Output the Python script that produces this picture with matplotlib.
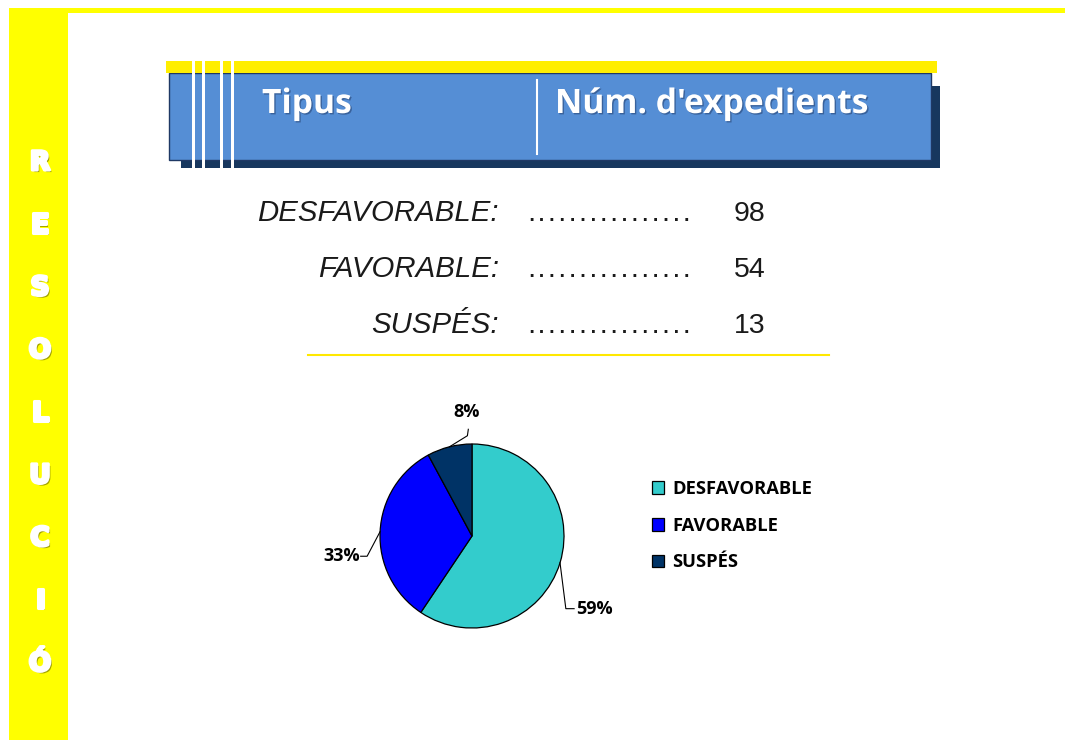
import numpy as np
import matplotlib
matplotlib.use('Agg')
import matplotlib.pyplot as plt
from matplotlib.patches import Rectangle
import matplotlib.patheffects as pe

# ---------------- data ----------------
categories = ['DESFAVORABLE', 'FAVORABLE', 'SUSPÉS']
counts = [98, 54, 13]
colors = ['#33CCCC', '#0000FF', '#003366']
header_cols = ['Tipus', "Núm. d'expedients"]
side_title = 'RESOLUCIÓ'

W, H = 1065, 740
fig = plt.figure(figsize=(W / 100, H / 100), dpi=100)
bg = fig.add_axes([0, 0, 1, 1])
bg.set_xlim(0, W)
bg.set_ylim(H, 0)
bg.axis('off')

# ---------------- yellow frame ----------------
bg.add_patch(Rectangle((9, 8), W - 9, 5, color='#FFFF00', lw=0))
bg.add_patch(Rectangle((9, 8), 59, H - 8, color='#FFFF00', lw=0))
letter_y = np.linspace(163, 664, len(side_title))
for ch, y in zip(side_title, letter_y):
    bg.text(40, y, ch, ha='center', va='center', color='white', fontsize=19,
            fontweight='bold', family='DejaVu Sans',
            path_effects=[pe.withSimplePatchShadow(offset=(1.5, -1.5),
                                                    shadow_rgbFace='#555500', alpha=0.55),
                          pe.Stroke(linewidth=2.2, foreground='white'),
                          pe.Normal()])

# ---------------- header ----------------
bg.add_patch(Rectangle((181, 86), 759, 82, color='#17375E', lw=0, zorder=1))
bg.add_patch(Rectangle((169, 73), 762, 87, facecolor='#558ED5', edgecolor='#1F3864',
                       lw=1, zorder=2))
bg.add_patch(Rectangle((166, 61), 771, 12, color='#FFEE00', lw=0, zorder=3))
for x, w in [(192, 3), (202, 3), (220, 2.5), (231, 2.5)]:
    bg.add_patch(Rectangle((x, 61), w, 108, color='white', lw=0, zorder=4))
bg.plot([537, 537], [80, 154], color='white', lw=1.5, zorder=4)
hdr_fx = [pe.withSimplePatchShadow(offset=(1, -1), shadow_rgbFace='#1F3864', alpha=0.5)]
bg.text(262, 113, header_cols[0], ha='left', va='baseline', color='white',
        fontsize=24.2, fontweight='bold', family='Open Sans', zorder=5, path_effects=hdr_fx)
bg.text(555, 113, header_cols[1], ha='left', va='baseline', color='white',
        fontsize=24.2, fontweight='bold', family='Open Sans', zorder=5, path_effects=hdr_fx)

# ---------------- table rows ----------------
row_base = [221, 277, 333]
for cat, n, yb in zip(categories, counts, row_base):
    bg.text(499, yb, cat + ':', ha='right', va='baseline', fontsize=21.2,
            style='italic', family='Liberation Sans', color='#1a1a1a')
    bg.text(526, yb, '.' * 16, ha='left', va='baseline', fontsize=12.4,
            fontweight='bold', family='DejaVu Sans Mono', color='#1a1a1a')
    bg.text(734, yb, str(n), ha='left', va='baseline', fontsize=20.5,
            family='Liberation Sans', color='#1a1a1a')
bg.plot([308, 829], [355, 355], color='#FFE800', lw=1.5)

# ---------------- pie ----------------
cx, cy, r = 472, 536, 92
lim = 1.8
pa = fig.add_axes([(cx - lim * r) / W, (H - cy - lim * r) / H,
                   2 * lim * r / W, 2 * lim * r / H])
wedges, _ = pa.pie(counts, colors=colors, startangle=90, counterclock=False,
                   radius=1, wedgeprops=dict(edgecolor='black', linewidth=0.9))
pa.set_xlim(-lim, lim)
pa.set_ylim(-lim, lim)
pa.axis('off')

total = sum(counts)
layout = {
    'DESFAVORABLE': ((1.02, -0.79), (1.11, -0.79), (1.13, -0.79), 'left'),
    'FAVORABLE': ((-1.14, -0.22), (-1.21, -0.22), (-1.22, -0.22), 'right'),
    'SUSPÉS': ((-0.05, 1.09), (-0.04, 1.16), (-0.06, 1.35), 'center'),
}
for w, cat, n in zip(wedges, categories, counts):
    mid = np.deg2rad((w.theta1 + w.theta2) / 2)
    ax0, ay0 = np.cos(mid), np.sin(mid)
    elbow, end, tpos, ha = layout[cat]
    pa.plot([ax0, elbow[0], end[0]], [ay0, elbow[1], end[1]], color='black', lw=0.8)
    pa.text(tpos[0], tpos[1], f'{round(100 * n / total)}%', ha=ha, va='center',
            fontsize=13, fontweight='bold', family='Open Sans', color='black')

fig.legend(wedges, categories, loc='upper left', bbox_to_anchor=(652 / W, 1 - 480 / H),
           frameon=False, prop=dict(family='Open Sans', weight='bold', size=13.2),
           handlelength=0.68, handleheight=0.68, handletextpad=0.42, labelspacing=1.02,
           borderpad=0, borderaxespad=0)

fig.savefig('out.png', dpi=100)
